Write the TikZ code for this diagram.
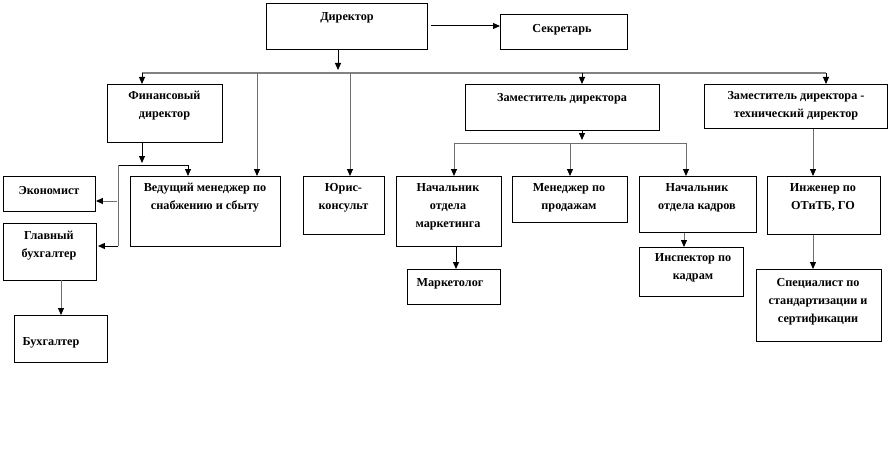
\documentclass[tikz,border=0pt]{standalone}
\usepackage{fontspec}
\setmainfont{Liberation Serif}
\usetikzlibrary{arrows.meta}
\tikzset{
  bx/.style={draw=black, line width=0.9pt, rectangle, inner sep=0pt, fill=white},
  txt/.style={font=\bfseries\fontsize{12.2}{18}\selectfont, align=center, inner sep=0pt, anchor=north},
  conn/.style={draw={rgb,255:red,110;green,110;blue,110}, line width=1pt},
  arr/.style={conn, -{Triangle[width=6pt,length=7pt,color=black,fill=black]}},
  busline/.style={draw={rgb,255:red,130;green,130;blue,130}, line width=2pt}
}
\newcommand\mkbox[5]{\node[bx,anchor=north west,minimum width=#4pt,minimum height=#5pt] (#1) at (#2,#3) {};}
\begin{document}
\begin{tikzpicture}[x=1pt,y=-1pt]
\useasboundingbox (0,0) rectangle (892,452);
% boxes
\mkbox{dir}{266}{3}{161}{46}
\mkbox{sec}{500}{14}{127}{35}
\mkbox{fin}{107}{84}{115}{58}
\mkbox{zam}{465}{84}{194}{46}
\mkbox{zamt}{704}{84}{183}{44}
\mkbox{econ}{3}{176}{92}{35}
\mkbox{gb}{3}{223}{93}{57}
\mkbox{buh}{14}{315}{93}{47}
\mkbox{ved}{130}{176}{150}{70}
\mkbox{jur}{303}{176}{81}{58}
\mkbox{nm}{396}{176}{105}{70}
\mkbox{mp}{512}{176}{115}{46}
\mkbox{nk}{639}{176}{117}{56}
\mkbox{ing}{767}{176}{113}{58}
\mkbox{mark}{407}{269}{93}{35}
\mkbox{insp}{639}{247}{104}{49}
\mkbox{spec}{756}{269}{125}{72}
% texts
\node[txt] (dir-t) at (347,12) {Директор};
\node[txt] (sec-t) at (562,24) {Секретарь};
\node[txt] (fin-t) at (164.5,91) {Финансовый\\директор};
\node[txt] (zam-t) at (562,93) {Заместитель директора};
\node[txt] (zamt-t) at (796,91) {Заместитель директора -\\технический директор};
\node[txt] (econ-t) at (49,186) {Экономист};
\node[txt] (gb-t) at (49,231) {Главный\\бухгалтер};
\node[txt] (buh-t) at (51,337) {Бухгалтер};
\node[txt] (ved-t) at (205,183) {Ведущий менеджер по\\снабжению и сбыту};
\node[txt] (jur-t) at (343.5,183) {Юрис-\\консульт};
\node[txt] (nm-t) at (448,183) {Начальник\\отдела\\маркетинга};
\node[txt] (mp-t) at (569,183) {Менеджер по\\продажам};
\node[txt] (nk-t) at (697,183) {Начальник\\отдела кадров};
\node[txt] (ing-t) at (823,183) {Инженер по\\ОТиТБ, ГО};
\node[txt] (mark-t) at (450,278) {Маркетолог};
\node[txt] (insp-t) at (693,253) {Инспектор по\\кадрам};
\node[txt] (spec-t) at (818,278) {Специалист по\\стандартизации и\\сертификации};
% connectors
\coordinate (s1) at (431,26);
\draw[arr,draw=black] (s1) -- (s1 -| sec.west);
\coordinate (dtip) at (338,70);
\draw[arr,draw=black] (dtip |- dir.south) -- (dtip);
\coordinate (busL) at (142,73);
\coordinate (busR) at (826,73);
\draw[busline] (busL) -- (busR);
\draw[arr,draw=black] (busL) -- (busL |- fin.north);
\coordinate (b2) at (257,73);
\draw[arr] (b2) -- (b2 |- ved.north);
\coordinate (b3) at (350,73);
\draw[arr] (b3) -- (b3 |- jur.north);
\coordinate (b4) at (582,73);
\draw[arr,draw=black] (b4) -- (b4 |- zam.north);
\draw[arr,draw=black] (busR) -- (busR |- zamt.north);
% financial director branch
\coordinate (f1) at (142,163);
\draw[arr,draw=black] (f1 |- fin.south) -- (f1);
\coordinate (fL) at (118,165);
\coordinate (fR) at (188,165);
\draw[arr,draw=black] (fL) -- (fR) -- (fR |- ved.north);
\coordinate (fB) at (118,246);
\draw[conn] (fL) -- (fB);
\coordinate (fE) at (117,201);
\draw[arr] (fE) -- (fE -| econ.east);
\draw[arr,draw=black] (fB) -- ([xshift=1pt]fB -| gb.east);
\coordinate (g1) at (61,280);
\draw[arr] (g1) -- (g1 |- buh.north);
% deputy branch
\coordinate (z1) at (582,140);
\draw[arr,draw=black] (z1 |- zam.south) -- (z1);
\coordinate (zL) at (454,143);
\coordinate (zM) at (570,143);
\coordinate (zR) at (686,143);
\draw[conn] (zL) -- (zR);
\draw[arr] (zL) -- (zL |- nm.north);
\draw[arr] (zM) -- (zM |- mp.north);
\draw[arr] (zR) -- (zR |- nk.north);
\coordinate (t1) at (813,130);
\draw[arr] (t1 |- zamt.south) -- (t1 |- ing.north);
\coordinate (m1) at (456,246);
\draw[arr,draw=black] (m1 |- nm.south) -- (m1 |- mark.north);
\coordinate (k1) at (684,232);
\draw[arr] (k1 |- nk.south) -- (k1 |- insp.north);
\coordinate (e1) at (813,234);
\draw[arr] (e1 |- ing.south) -- (e1 |- spec.north);
\end{tikzpicture}
\end{document}
